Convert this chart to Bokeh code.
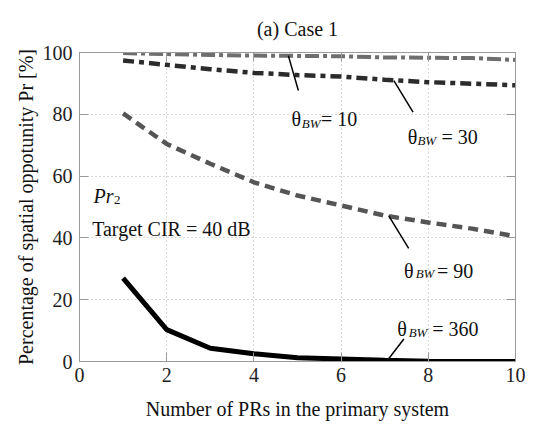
from bokeh.plotting import figure
from bokeh.models import Label, LinearAxis, FixedTicker, Range1d
from bokeh.embed import file_html
from bokeh.resources import INLINE

# ---- data ----
n_prs = [1, 2, 3, 4, 5, 6, 7, 8, 9, 10]
pr_bw10 = [99.8, 99.5, 99.2, 99.0, 98.9, 98.8, 98.4, 98.3, 98.2, 97.6]
pr_bw30 = [97.4, 96.0, 94.6, 93.4, 92.7, 92.2, 91.2, 90.4, 89.9, 89.4]
pr_bw90 = [80.3, 70.4, 64.0, 58.0, 53.7, 50.5, 47.2, 45.0, 43.0, 40.5]
pr_bw360 = [27.0, 10.3, 4.3, 2.5, 1.2, 0.8, 0.4, 0.1, 0.0, 0.0]
x_ticks = [0, 2, 4, 6, 8, 10]
y_ticks = [0, 20, 40, 60, 80, 100]

FONT = "Liberation Serif"
FS = "20px"

p = figure(width=536, height=425, output_backend="svg", toolbar_location=None,
           x_range=Range1d(0, 10), y_range=Range1d(0, 100),
           min_border_left=79, min_border_right=21, min_border_top=52, min_border_bottom=64,
           background_fill_color="white", border_fill_color="white",
           title="(a) Case 1")
p.title.text_font = FONT
p.title.text_font_size = FS
p.title.text_font_style = "normal"
p.title.text_color = "#111111"
p.title.align = "center"
p.title.offset = -14
p.title.standoff = 26

p.outline_line_color = "#9a9a9a"
p.outline_line_width = 1

for ax in (p.xaxis[0], p.yaxis[0]):
    ax.major_label_text_font = FONT
    ax.major_label_text_font_size = FS
    ax.major_label_text_color = "#222222"
    ax.axis_label_text_font = FONT
    ax.axis_label_text_font_size = FS
    ax.axis_label_text_font_style = "normal"
    ax.axis_label_text_color = "#111111"
    ax.axis_line_color = "#9a9a9a"
    ax.major_tick_line_color = "#9a9a9a"
    ax.major_tick_in = 9
    ax.major_tick_out = 0
    ax.minor_tick_line_color = None
p.xaxis[0].ticker = FixedTicker(ticks=x_ticks)
p.yaxis[0].ticker = FixedTicker(ticks=y_ticks)
p.xaxis[0].major_label_standoff = 6
p.yaxis[0].major_label_standoff = 7
p.xaxis[0].axis_label = "Number of PRs in the primary system"
p.xaxis[0].axis_label_standoff = 13
p.yaxis[0].axis_label = "Percentage of spatial oppotunity Pr [%]"
p.yaxis[0].axis_label_standoff = 3

for loc, tk in (("right", y_ticks), ("above", x_ticks)):
    ax = LinearAxis(ticker=FixedTicker(ticks=tk))
    ax.major_label_text_font_size = "0px"
    ax.major_label_text_color = None
    ax.axis_line_color = "#9a9a9a"
    ax.major_tick_line_color = "#9a9a9a"
    ax.major_tick_in = 9
    ax.major_tick_out = 0
    ax.minor_tick_line_color = None
    ax.major_label_standoff = 0
    p.add_layout(ax, loc)

p.xgrid.ticker = FixedTicker(ticks=x_ticks)
p.ygrid.ticker = FixedTicker(ticks=y_ticks)
for g in (p.xgrid, p.ygrid):
    g.grid_line_color = "#b5b5b5"
    g.grid_line_dash = "1 3"
    g.grid_line_width = 1

# ---- series ----
p.line(n_prs, pr_bw10, line_color="#6e6e6e", line_width=4, line_dash="14 4 4 4")
p.line(n_prs, pr_bw30, line_color="#2b2b2b", line_width=4.5, line_dash="11 5 5 5")
p.line(n_prs, pr_bw90, line_color="#555555", line_width=4.5, line_dash="10 6")
p.line(n_prs, pr_bw360, line_color="#000000", line_width=5)

# ---- leader lines ----
p.segment(x0=[4.79, 7.21, 7.09, 7.06], y0=[99.0, 90.9, 47.2, 0.3],
          x1=[5.02, 7.65, 7.55, 7.44], y1=[87.7, 80.7, 36.6, 7.3],
          line_color="black", line_width=1.5)

def txt(x, y, s, size=FS, style="normal", align="left"):
    p.add_layout(Label(x=x, y=y, text=s, text_font=FONT, text_font_size=size,
                       text_font_style=style, text_align=align, text_baseline="alphabetic",
                       text_color="#111111"))

# theta_BW labels
for (tx, ty, bx, by, ex, etext) in [
    (4.865, 78.6, 5.10, 77.0, 5.54, "= 10"),
    (7.53, 72.6, 7.75, 71.5, 8.30, "= 30"),
    (7.44, 29.4, 7.71, 28.4, 8.20, "= 90"),
    (7.29, 10.6, 7.55, 9.5, 8.09, "= 360"),
]:
    txt(tx, ty, "θ")
    txt(bx, by, "BW", size="13px", style="italic")
    txt(ex, ty, etext)

txt(0.32, 53.4, "Pr", style="italic")
txt(0.79, 52.3, "2", size="13px")
txt(0.29, 42.9, "Target CIR = 40 dB")

open("out.html", "w").write(file_html(p, INLINE))
